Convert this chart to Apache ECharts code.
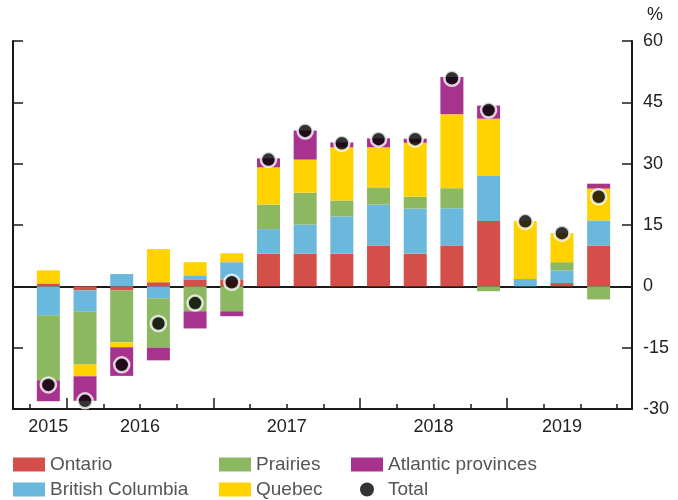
<!DOCTYPE html>
<html><head><meta charset="utf-8">
<script src="https://cdn.jsdelivr.net/npm/echarts@6/dist/echarts.min.js"></script>
<style>html,body{margin:0;padding:0;background:#fff}#c{width:678px;height:500px}</style>
</head><body><div id="c"></div>
<script>
const quarters = ['2015Q4','2016Q1','2016Q2','2016Q3','2016Q4','2017Q1','2017Q2','2017Q3','2017Q4','2018Q1','2018Q2','2018Q3','2018Q4','2019Q1','2019Q2','2019Q3'];
const ontario  = [0.7, -1.0, -1.0, 1.0, 1.7, 1.7, 8.0, 8.0, 8.0, 10.0, 8.0, 10.0, 16.0, 0, 0.8, 10.0];
const britishColumbia = [-7.1, -5.1, 3.0, -2.9, 1.0, 4.2, 6.0, 7.1, 9.1, 10.0, 11.0, 9.1, 11.0, 1.8, 3.1, 6.1];
const prairies = [-15.9, -13.0, -12.7, -12.1, -6.1, -6.1, 6.0, 7.8, 3.9, 4.2, 2.9, 4.9, -1.2, 0, 2.0, -3.2];
const quebec   = [3.2, -2.9, -1.2, 8.1, 3.2, 2.2, 9.1, 8.1, 13.0, 9.8, 13.2, 18.1, 14.0, 14.2, 7.1, 7.8];
const atlantic = [-5.1, -6.0, -7.0, -3.1, -4.2, -1.2, 2.2, 7.1, 1.2, 2.2, 1.0, 9.1, 3.2, 0, 0, 1.2];
const total    = [-24.1, -28.0, -19.2, -9.1, -4.1, 1.0, 31.0, 38.0, 35.0, 36.0, 36.0, 50.9, 43.1, 15.9, 13.0, 21.9];
const yMin = -30, yMax = 60, yStep = 15;

// year groups derived from categories
const years = [];
quarters.forEach((q, i) => {
  const y = q.slice(0, 4);
  let g = years.find(g => g.year === y);
  if (!g) { g = {year: y, start: i, end: i + 1}; years.push(g); } else { g.end = i + 1; }
});
const yearCenters = years.map(g => (g.start + g.end) / 2);
const yearStarts = quarters.map((q, i) => q.endsWith('Q1') ? i : null).filter(v => v !== null);
const boundaries = quarters.map((q, i) => i).concat([quarters.length]);

const FONT = 'Liberation Sans, Arial, Helvetica, sans-serif';
const AX = '#1a1a1a';
const colors = {Ontario:'#d44f4a', 'British Columbia':'#6bb8dd', Prairies:'#8db862', Quebec:'#ffd200', 'Atlantic provinces':'#a8338e'};

const gridTop = 41, gridBottom = 91;
const chart = echarts.init(document.getElementById('c'), null, {renderer: 'canvas'});

function barSeries(name, data) {
  return {name, type:'bar', stack:'total', data, xAxisIndex:1, yAxisIndex:2,
    barWidth:23, itemStyle:{color: colors[name]}, emphasis:{disabled:true}};
}
function legendCol(left, data) {
  return {left, top:455, height:60, padding:0, orient:'vertical', itemWidth:32, itemHeight:14, itemGap:6, icon:'rect',
    textStyle:{fontSize:19, color:'#555', fontFamily:FONT, lineHeight:18}, selectedMode:false, data};
}

const option = {
  animation:false,
  textStyle:{fontFamily:FONT},
  grid:[
    {left:13, right:46, top:gridTop, bottom:gridBottom},
    {left:30, right:61, top:gridTop, bottom:gridBottom}
  ],
  xAxis:[
    {gridIndex:0, type:'category', data:[''], position:'bottom',
      axisLine:{show:true, onZero:false, lineStyle:{color:AX, width:2}},
      axisTick:{show:false}, axisLabel:{show:false}, splitLine:{show:false}},
    {gridIndex:1, type:'category', data:quarters, position:'bottom',
      axisLine:{show:false, onZero:false}, axisTick:{show:false}, axisLabel:{show:false}},
    {gridIndex:1, type:'value', min:0, max:quarters.length, position:'bottom',
      axisLine:{show:false, onZero:false}, splitLine:{show:false},
      axisTick:{show:true, inside:true, length:5, customValues:boundaries, lineStyle:{color:AX, width:1.5}},
      axisLabel:{show:true, customValues:yearCenters, margin:9,
        formatter: v => { const k = yearCenters.indexOf(v); return k >= 0 ? years[k].year : ''; },
        color:'#222', fontSize:18, fontFamily:FONT}},
    {gridIndex:1, type:'value', min:0, max:quarters.length, position:'bottom',
      axisLine:{show:false, onZero:false}, splitLine:{show:false},
      axisTick:{show:true, inside:true, length:11, customValues:yearStarts, lineStyle:{color:AX, width:1.5}},
      axisLabel:{show:false}},
    {gridIndex:0, type:'category', data:[''], position:'top',
      axisLine:{show:true, onZero:true, lineStyle:{color:AX, width:2}},
      axisTick:{show:false}, axisLabel:{show:false}}
  ],
  yAxis:[
    {gridIndex:0, type:'value', position:'right', min:yMin, max:yMax, interval:yStep,
      name:'%', nameLocation:'end', nameGap:17,
      nameTextStyle:{align:'left', padding:[0,0,0,15], color:'#222', fontSize:18, fontFamily:FONT},
      axisLine:{show:true, onZero:false, lineStyle:{color:AX, width:2}},
      axisTick:{show:true, inside:true, length:10, lineStyle:{color:AX, width:1.5}},
      axisLabel:{show:true, margin:11, color:'#222', fontSize:18, fontFamily:FONT},
      splitLine:{show:false}},
    {gridIndex:0, type:'value', position:'left', min:yMin, max:yMax, interval:yStep,
      axisLine:{show:true, onZero:false, lineStyle:{color:AX, width:2}},
      axisTick:{show:true, inside:true, length:10, lineStyle:{color:AX, width:1.5}},
      axisLabel:{show:false}, splitLine:{show:false}},
    {gridIndex:1, type:'value', min:yMin, max:yMax, interval:yStep, show:false,
      axisLine:{onZero:false}, splitLine:{show:false}}
  ],
  legend:[
    legendCol(13, ['Ontario','British Columbia']),
    legendCol(219, ['Prairies','Quebec']),
    legendCol(351, ['Atlantic provinces', {name:'Total', icon:'circle', itemStyle:{color:'#000', borderWidth:0}}])
  ],
  series:[
    barSeries('Ontario', ontario),
    barSeries('British Columbia', britishColumbia),
    barSeries('Prairies', prairies),
    barSeries('Quebec', quebec),
    barSeries('Atlantic provinces', atlantic),
    {name:'Total', type:'scatter', data:total, xAxisIndex:1, yAxisIndex:2, z:5,
      symbol:'circle', symbolSize:15,
      itemStyle:{color:'#000', borderColor:'#fff', borderWidth:2.5}, emphasis:{disabled:true}}
  ]
};
chart.setOption(option);
</script>
</body></html>
